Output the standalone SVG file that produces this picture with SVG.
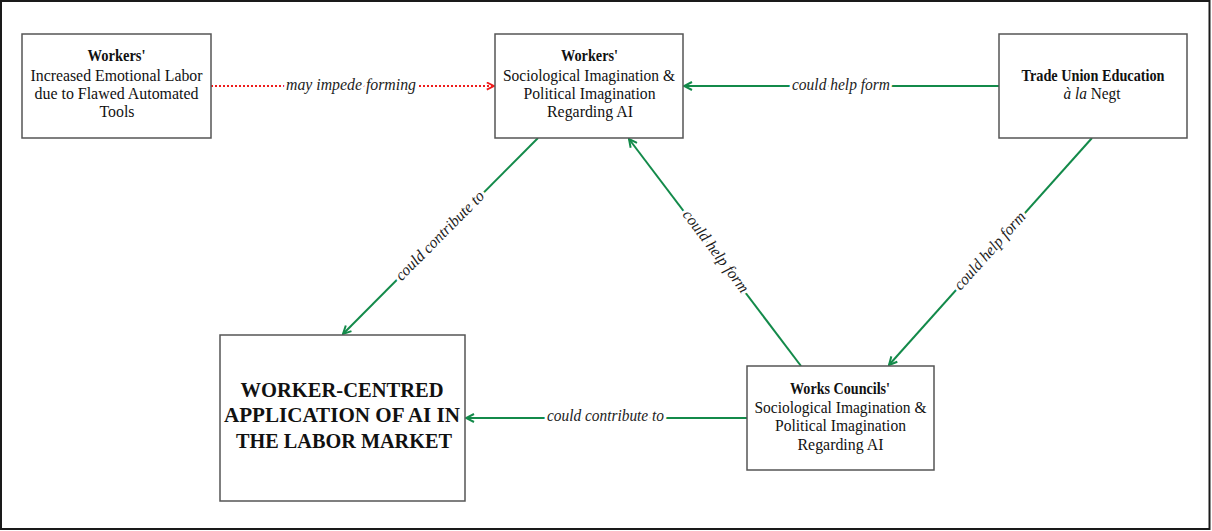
<svg xmlns="http://www.w3.org/2000/svg" width="1212" height="531" viewBox="0 0 1212 531">
<style>
.box{fill:#fff;stroke:#555;stroke-width:1.5}
.t{font-family:"Liberation Serif","Times New Roman",serif;font-size:16px;fill:#111;text-anchor:middle}
.b{font-weight:bold}
.big{font-family:"Liberation Serif","Times New Roman",serif;font-size:21.5px;font-weight:bold;fill:#111;text-anchor:middle}
.lbl{font-family:"Liberation Serif","Times New Roman",serif;font-size:16px;font-style:italic;fill:#222;text-anchor:middle;stroke:#fff;stroke-width:6;paint-order:stroke;stroke-linejoin:round}
.g{stroke:#138a4a;stroke-width:2;fill:none;marker-end:url(#ag)}
.r{stroke:#ee1c1c;stroke-width:2;fill:none;stroke-dasharray:2 2;marker-end:url(#ar)}
</style>
<defs>
<marker id="ag" viewBox="0 0 10 10" refX="9" refY="5" markerWidth="10" markerHeight="10" markerUnits="userSpaceOnUse" orient="auto">
<path d="M1,1 L9,5 L1,9" fill="none" stroke="#138a4a" stroke-width="2"/>
</marker>
<marker id="ar" viewBox="0 0 10 10" refX="9" refY="5" markerWidth="9" markerHeight="9" markerUnits="userSpaceOnUse" orient="auto">
<path d="M1,1 L9,5 L1,9" fill="none" stroke="#ee1c1c" stroke-width="2"/>
</marker>
</defs>
<rect x="0" y="0" width="1212" height="531" fill="#fff"/>
<rect x="1" y="1" width="1208.5" height="528" fill="none" stroke="#1a1a1a" stroke-width="2"/>
<g id="connectors">
<path class="r" d="M211,86 L494,86"/>
<path class="g" d="M999,86 L684,86"/>
<path class="g" d="M538,138 L343,334"/>
<path class="g" d="M801,366 L629,139"/>
<path class="g" d="M1092,138 L889,365"/>
<path class="g" d="M747,418 L466,418"/>
<text class="lbl" x="351" y="90" textLength="130" lengthAdjust="spacingAndGlyphs">may impede forming</text>
<text class="lbl" x="841" y="90" textLength="98" lengthAdjust="spacingAndGlyphs">could help form</text>
<text class="lbl" x="605.5" y="421" textLength="117" lengthAdjust="spacingAndGlyphs">could contribute to</text>
<text class="lbl" transform="translate(440.5,236.5) rotate(-45.3)" x="0" y="4" textLength="119" lengthAdjust="spacingAndGlyphs">could contribute to</text>
<text class="lbl" transform="translate(715,252) rotate(53)" x="0" y="4" textLength="99" lengthAdjust="spacingAndGlyphs">could help form</text>
<text class="lbl" transform="translate(990.5,251.5) rotate(-48.3)" x="0" y="4" textLength="99" lengthAdjust="spacingAndGlyphs">could help form</text>
</g>
<g id="node-emotional-labor">
<rect class="box" x="22" y="34" width="189" height="104"/>
<text class="t b" x="116.5" y="61" textLength="58" lengthAdjust="spacingAndGlyphs">Workers'</text>
<text class="t" x="116.5" y="80.5" textLength="172" lengthAdjust="spacingAndGlyphs">Increased Emotional Labor</text>
<text class="t" x="116.5" y="99" textLength="164" lengthAdjust="spacingAndGlyphs">due to Flawed Automated</text>
<text class="t" x="117" y="117" textLength="35" lengthAdjust="spacingAndGlyphs">Tools</text>
</g>
<g id="node-workers-imagination">
<rect class="box" x="495" y="34" width="188" height="104"/>
<text class="t b" x="589.5" y="61" textLength="57" lengthAdjust="spacingAndGlyphs">Workers'</text>
<text class="t" x="589" y="80.5" textLength="172" lengthAdjust="spacingAndGlyphs">Sociological Imagination &amp;</text>
<text class="t" x="589.5" y="99" textLength="132" lengthAdjust="spacingAndGlyphs">Political Imagination</text>
<text class="t" x="590" y="117" textLength="86" lengthAdjust="spacingAndGlyphs">Regarding AI</text>
</g>
<g id="node-trade-union">
<rect class="box" x="999" y="34" width="188" height="104"/>
<text class="t b" x="1093" y="80.5" textLength="143" lengthAdjust="spacingAndGlyphs">Trade Union Education</text>
<text class="t" x="1092" y="99" textLength="57" lengthAdjust="spacingAndGlyphs"><tspan font-style="italic">à la</tspan> Negt</text>
</g>
<g id="node-worker-centred">
<rect class="box" x="220" y="335" width="245" height="166"/>
<text class="big" x="342" y="397" textLength="203" lengthAdjust="spacingAndGlyphs">WORKER-CENTRED</text>
<text class="big" x="342" y="422" textLength="236" lengthAdjust="spacingAndGlyphs">APPLICATION OF AI IN</text>
<text class="big" x="344" y="448" textLength="216" lengthAdjust="spacingAndGlyphs">THE LABOR MARKET</text>
</g>
<g id="node-works-councils">
<rect class="box" x="747" y="366" width="187" height="104"/>
<text class="t b" x="840" y="393.5" textLength="100" lengthAdjust="spacingAndGlyphs">Works Councils'</text>
<text class="t" x="840.5" y="412.5" textLength="172" lengthAdjust="spacingAndGlyphs">Sociological Imagination &amp;</text>
<text class="t" x="840.5" y="431" textLength="131" lengthAdjust="spacingAndGlyphs">Political Imagination</text>
<text class="t" x="840.5" y="449.5" textLength="86" lengthAdjust="spacingAndGlyphs">Regarding AI</text>
</g>
</svg>
